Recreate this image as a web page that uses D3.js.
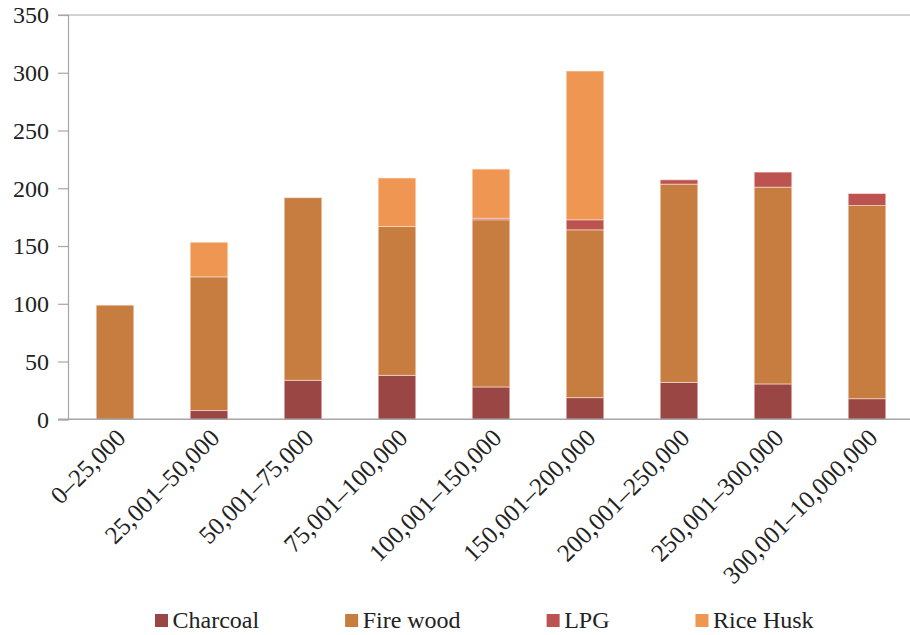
<!DOCTYPE html>
<html>
<head>
<meta charset="utf-8">
<script src="https://cdn.jsdelivr.net/npm/d3@7"></script>
<style>
  body { margin: 0; background: #fff; }
  svg { display: block; }
  text { font-family: "Liberation Serif", "DejaVu Serif", serif; fill: #222; }
</style>
</head>
<body>
<svg id="chart" width="910" height="635"></svg>
<script>
const categories = ["0–25,000", "25,001–50,000", "50,001–75,000", "75,001–100,000", "100,001–150,000", "150,001–200,000", "200,001–250,000", "250,001–300,000", "300,001–10,000,000"];
const seriesNames = ["Charcoal", "Fire wood", "LPG", "Rice Husk"];
const charcoal = [0, 7.5, 33.8, 38.1, 28, 18.7, 32, 30.6, 17.8];
const fireWood = [98.8, 115.8, 158, 128.8, 144.7, 145.3, 171.6, 170.4, 167.2];
const lpg = [0, 0, 0, 0, 1.4, 8.7, 3.7, 13, 10.4];
const riceHusk = [0, 30, 0, 42, 42.5, 128.8, 0, 0, 0];
const yTicks = [0, 50, 100, 150, 200, 250, 300, 350];
const colors = ["#994644", "#c77c40", "#bc5351", "#ef9752"];

(function () {
const svg = d3.select("#chart");
const mLeft = 68, mRight = 914, mTop = 15, mBottom = 419.3;
const FONT = "'Liberation Serif', serif";

const rows = categories.map((c, i) => ({
  cat: c, "Charcoal": charcoal[i], "Fire wood": fireWood[i], "LPG": lpg[i], "Rice Husk": riceHusk[i]
}));
const stacked = d3.stack().keys(seriesNames)(rows);

const x = d3.scaleBand().domain(categories).range([mLeft, mRight]).paddingInner(0.6).paddingOuter(0.3);
const y = d3.scaleLinear().domain([0, 350]).range([mBottom, mTop]);

// top frame line
svg.append("line").attr("x1", 58).attr("x2", 910).attr("y1", y(350)).attr("y2", y(350))
  .attr("stroke", "#a6a6a6").attr("stroke-width", 1.2);

// bars
const colorScale = d3.scaleOrdinal().domain(seriesNames).range(colors);
svg.append("g").selectAll("g").data(stacked).join("g")
  .attr("fill", d => colorScale(d.key))
  .selectAll("rect").data(d => d.filter(s => s[1] - s[0] > 0)).join("rect")
  .attr("x", d => x(d.data.cat))
  .attr("width", x.bandwidth())
  .attr("y", d => y(d[1]))
  .attr("height", d => y(d[0]) - y(d[1]))
  .attr("stroke", "rgba(255,235,225,0.7)")
  .attr("stroke-width", 0.8);

// y axis
const yAxis = d3.axisLeft(y).tickValues(yTicks).tickSize(10).tickPadding(9).tickFormat(d3.format("d"));
const gy = svg.append("g").attr("transform", `translate(${mLeft},0)`).call(yAxis);
gy.select(".domain").attr("stroke", "#a6a6a6").attr("stroke-width", 1.2);
gy.selectAll(".tick line").attr("stroke", "#a6a6a6").attr("stroke-width", 1.2);
gy.selectAll(".tick text").style("font-size", "24px").attr("fill", "#222")
  .style("font-family", FONT).attr("dy", "0.33em");

// x axis baseline
svg.append("line").attr("x1", 58).attr("x2", 910).attr("y1", mBottom).attr("y2", mBottom)
  .attr("stroke", "#a6a6a6").attr("stroke-width", 1.5);

// x labels
const xAxis = d3.axisBottom(x).tickSize(0).tickPadding(0);
const gx = svg.append("g").attr("transform", `translate(0,${mBottom})`).call(xAxis);
gx.select(".domain").remove();
gx.selectAll(".tick text")
  .style("font-size", "25px").style("font-family", FONT).attr("fill", "#222")
  .attr("text-anchor", "end")
  .attr("x", 0).attr("y", 0).attr("dy", 0)
  .attr("transform", "translate(12,20) rotate(-45)");

// legend
const legend = svg.append("g");
let lx = 155;
const items = legend.selectAll("g").data(seriesNames).join("g");
items.append("rect").attr("width", 13).attr("height", 13).attr("y", -14.3).attr("fill", d => colorScale(d));
items.append("text").attr("x", 17.5).attr("y", 0).text(d => d)
  .style("font-size", "24px").style("font-family", FONT);
items.each(function() {
  const g = d3.select(this);
  g.attr("transform", `translate(${lx},628.3)`);
  lx += 17.5 + g.select("text").node().getComputedTextLength() + 86;
});
})();
</script>
</body>
</html>
